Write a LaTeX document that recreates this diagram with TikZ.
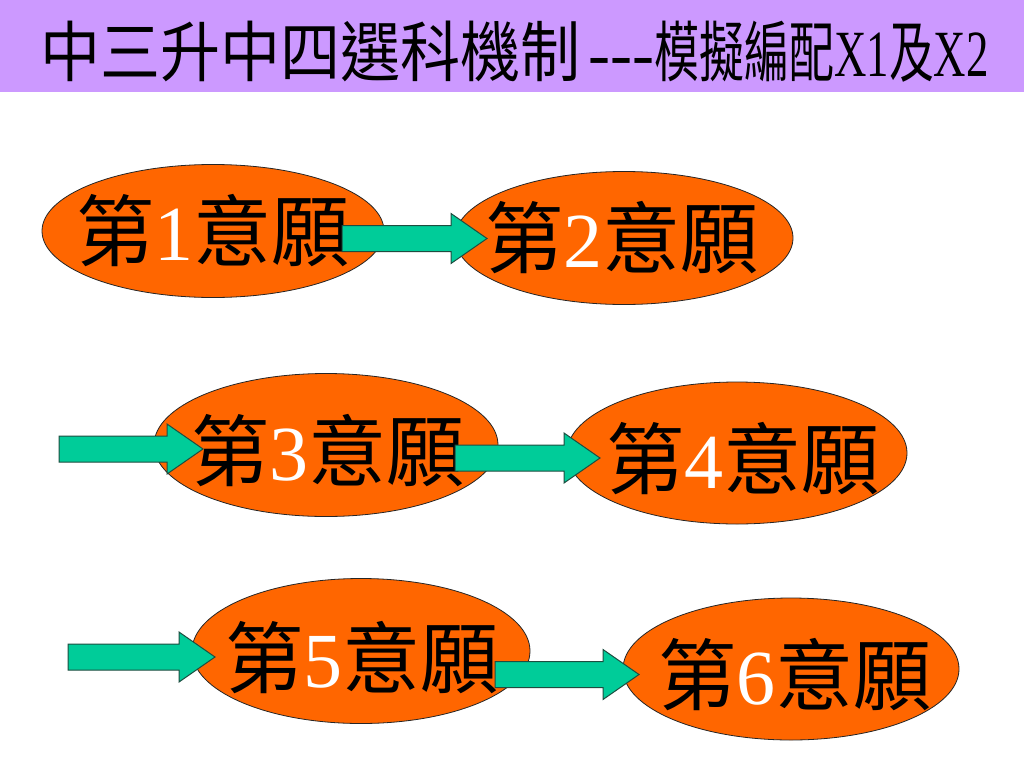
\documentclass[tikz,border=0pt]{standalone}
\usepackage{fontspec}
\usepackage{graphicx}
\usetikzlibrary{shapes.geometric,calc}
\newfontfamily\cjk{Noto Sans CJK TC}
\newfontfamily\serifdig{Liberation Serif}
\definecolor{titlebg}{HTML}{CC99FF}
\definecolor{ellfill}{HTML}{FF6600}
\definecolor{arrfill}{HTML}{00CC99}
\definecolor{arredge}{HTML}{1E4D40}
\newcommand\wish[1]{\cjk\fontsize{78}{80}\selectfont 第{\serifdig\color{white}#1}意願}
\begin{document}
\begin{tikzpicture}[x=1pt,y=-1pt,
  ell/.style={ellipse, fill=ellfill, draw=black!85, line width=0.8pt, inner sep=0pt},
  wishtext/.style={inner sep=0pt, text=black},
  barrow/.style={fill=arrfill, draw=arredge, line width=1pt, line join=miter}]
\useasboundingbox (0,0) rectangle (1024,768);
\fill[white] (0,0) rectangle (1024,768);
\fill[titlebg] (0,0) rectangle (1024,92);
\node[anchor=base west, inner sep=0pt] (title) at (40,77)
  {\cjk\fontsize{66}{66}\selectfont \scalebox{0.91}[1]{中三升中四選科機制}\kern8pt{\serifdig\fontsize{66}{66}\selectfont ---}\scalebox{0.68}[1]{模擬編配{\serifdig X1}及{\serifdig X2}}};

% ellipses
\node[ell, minimum width=342pt, minimum height=133pt] (e1) at (213,231) {};
\node[ell, minimum width=338pt, minimum height=133pt] (e2) at (624,238) {};
\node[ell, minimum width=344pt, minimum height=143pt] (e3) at (326,445) {};
\node[ell, minimum width=340pt, minimum height=142pt] (e4) at (737,453) {};
\node[ell, minimum width=338pt, minimum height=145pt] (e5) at (361,651) {};
\node[ell, minimum width=336pt, minimum height=142pt] (e6) at (791,669) {};

% texts
\node[wishtext] (t1) at ($(e1.center)+(0,0)$) {\wish{1}};
\node[wishtext] (t2) at ($(e2.center)+(-2,0)$) {\wish{2}};
\node[wishtext] (t3) at ($(e3.center)+(2,6)$) {\wish{3}};
\node[wishtext] (t4) at ($(e4.center)+(6,6)$) {\wish{4}};
\node[wishtext] (t5) at ($(e5.center)+(1,7)$) {\wish{5}};
\node[wishtext] (t6) at ($(e6.center)+(4,6)$) {\wish{6}};

% arrow endpoints
\coordinate (s1) at (342,238.5); \coordinate (p1) at (487,238.5);
\coordinate (s2) at (59,449);    \coordinate (p2) at (203,449);
\coordinate (s3) at (455,458);   \coordinate (p3) at (600,458);
\coordinate (s4) at (68,657);    \coordinate (p4) at (215,657);
\coordinate (s5) at (495,674.5); \coordinate (p5) at (639,674.5);

\foreach \i in {1,...,5}{
  \draw[barrow] ($(s\i)+(0,-13)$) -- ($(p\i)+(-36,-13)$) -- ($(p\i)+(-36,-25)$)
    -- (p\i) -- ($(p\i)+(-36,25)$) -- ($(p\i)+(-36,13)$) -- ($(s\i)+(0,13)$) -- cycle;
}
\end{tikzpicture}
\end{document}
